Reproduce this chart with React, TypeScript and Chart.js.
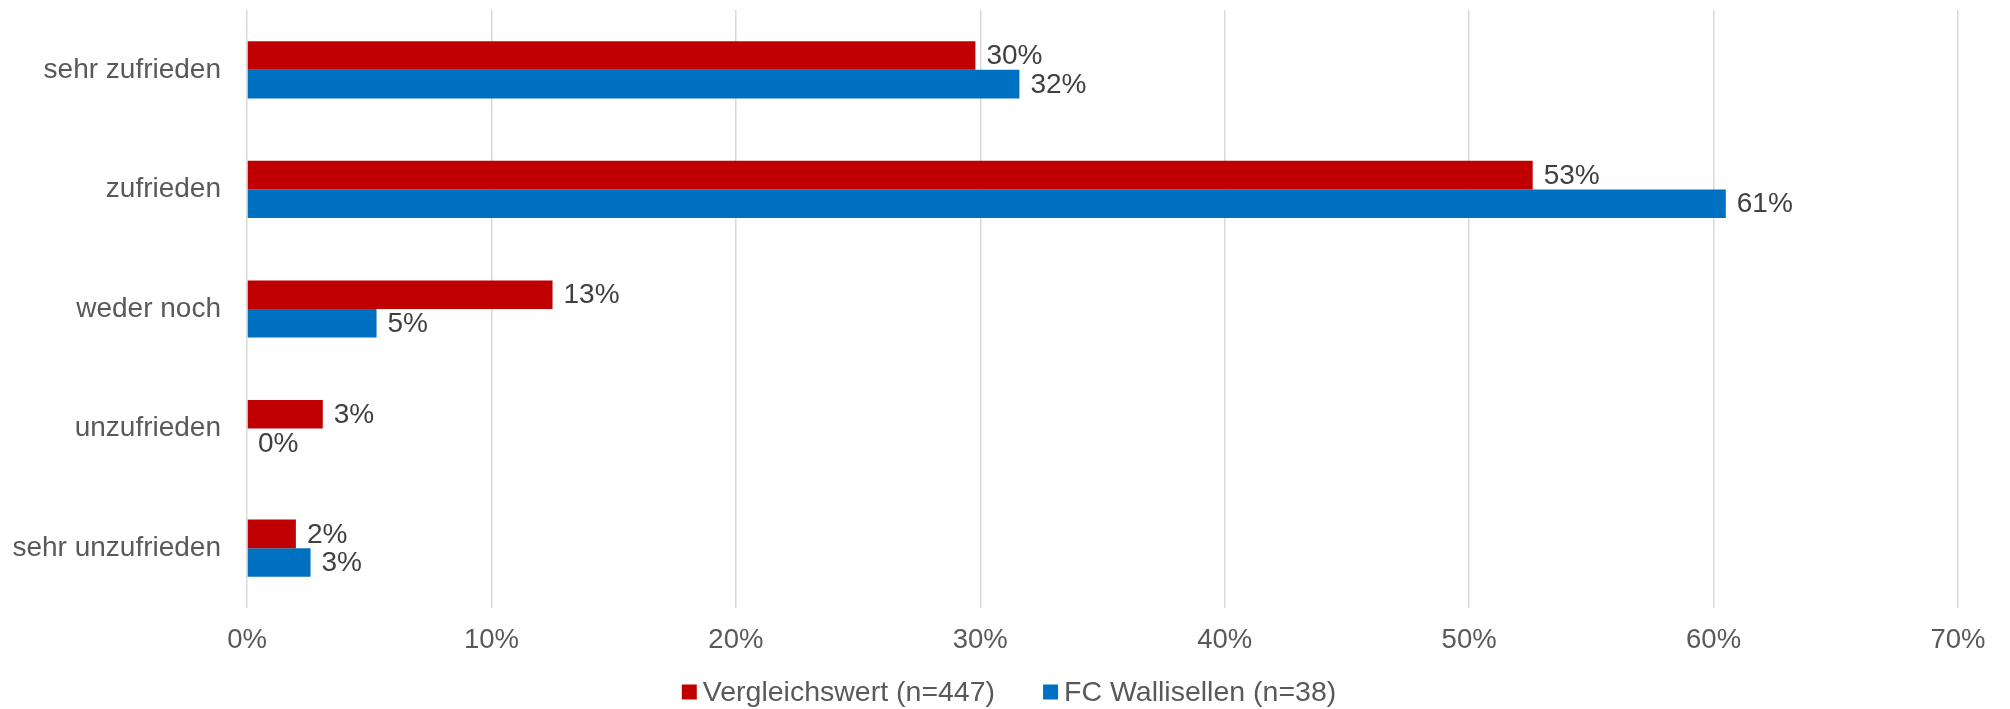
import React, { useEffect, useRef } from "react";
import { Chart, registerables } from "chart.js";

Chart.register(...registerables);

const categories = ["sehr zufrieden", "zufrieden", "weder noch", "unzufrieden", "sehr unzufrieden"];
const vergleichswert = [29.8, 52.6, 12.5, 3.1, 2.0];
const wallisellen = [31.6, 60.5, 5.3, 0, 2.6];
const seriesNames = ["Vergleichswert (n=447)", "FC Wallisellen (n=38)"];
const seriesColors = ["#C00000", "#0070C0"];
const axisMax = 70;
const axisStep = 10;

const FONT = '"Liberation Sans", Arial, sans-serif';

const dataLabels = {
  id: "dataLabels",
  afterDatasetsDraw(chart: any) {
    const ctx = chart.ctx;
    ctx.save();
    ctx.font = `28px ${FONT}`;
    ctx.fillStyle = "#404040";
    ctx.textAlign = "left";
    ctx.textBaseline = "middle";
    chart.data.datasets.forEach((ds: any, i: number) => {
      const meta = chart.getDatasetMeta(i);
      meta.data.forEach((bar: any, j: number) => {
        const v = ds.data[j];
        ctx.fillText(Math.round(v) + "%", bar.x + 11, bar.y + 1);
      });
    });
    ctx.restore();
  },
};

const customLegend = {
  id: "customLegend",
  afterDraw(chart: any) {
    const ctx = chart.ctx;
    ctx.save();
    ctx.font = `28.5px ${FONT}`;
    ctx.textBaseline = "middle";
    ctx.textAlign = "left";
    const box = 15;
    const gapBoxText = 6;
    const gapItems = 48;
    const items = chart.data.datasets.map((ds: any) => ({
      label: ds.label,
      color: ds.backgroundColor,
      w: ctx.measureText(ds.label).width,
    }));
    const total =
      items.reduce((s: number, it: any) => s + box + gapBoxText + it.w, 0) + gapItems * (items.length - 1);
    let x = (chart.width - total) / 2 + 4;
    const y = 692;
    items.forEach((it: any) => {
      ctx.fillStyle = it.color;
      ctx.fillRect(x, y - box / 2, box, box);
      x += box + gapBoxText;
      ctx.fillStyle = "#595959";
      ctx.fillText(it.label, x, y + 1);
      x += it.w + gapItems;
    });
    ctx.restore();
  },
};

export default function App() {
  const ref = useRef<HTMLCanvasElement>(null);
  useEffect(() => {
    document.body.style.margin = "0";
    if (!ref.current) return;
    const chart = new Chart(ref.current, {
      type: "bar",
      data: {
        labels: categories,
        datasets: [
          {
            label: seriesNames[0],
            data: vergleichswert,
            backgroundColor: seriesColors[0],
            categoryPercentage: 0.478,
            barPercentage: 1,
          },
          {
            label: seriesNames[1],
            data: wallisellen,
            backgroundColor: seriesColors[1],
            categoryPercentage: 0.478,
            barPercentage: 1,
          },
        ],
      },
      options: {
        indexAxis: "y",
        animation: false,
        responsive: true,
        maintainAspectRatio: false,
        layout: { padding: { top: 10, right: 52, left: 0, bottom: 0 } },
        plugins: {
          legend: { display: false },
          tooltip: { enabled: false },
        },
        scales: {
          x: {
            min: 0,
            max: axisMax,
            ticks: {
              stepSize: axisStep,
              padding: 16,
              color: "#595959",
              font: { size: 27.5, family: FONT },
              callback: (v: any) => v + "%",
            },
            grid: { color: "#d9d9d9", lineWidth: 1.5, drawTicks: false },
            border: { display: false },
            afterFit: (s: any) => {
              s.height = 101;
              s.paddingLeft = 0;
            },
          },
          y: {
            ticks: {
              padding: 26,
              color: "#595959",
              font: { size: 28, family: FONT },
            },
            grid: { display: false, drawTicks: false },
            border: { display: false },
            afterFit: (s: any) => {
              s.width = 247;
              s.paddingTop = 0;
              s.paddingBottom = 0;
            },
          },
        },
      },
      plugins: [dataLabels, customLegend],
    });
    return () => chart.destroy();
  }, []);
  return (
    <div style={{ width: 2010, height: 709, position: "relative" }}>
      <canvas ref={ref} />
    </div>
  );
}
